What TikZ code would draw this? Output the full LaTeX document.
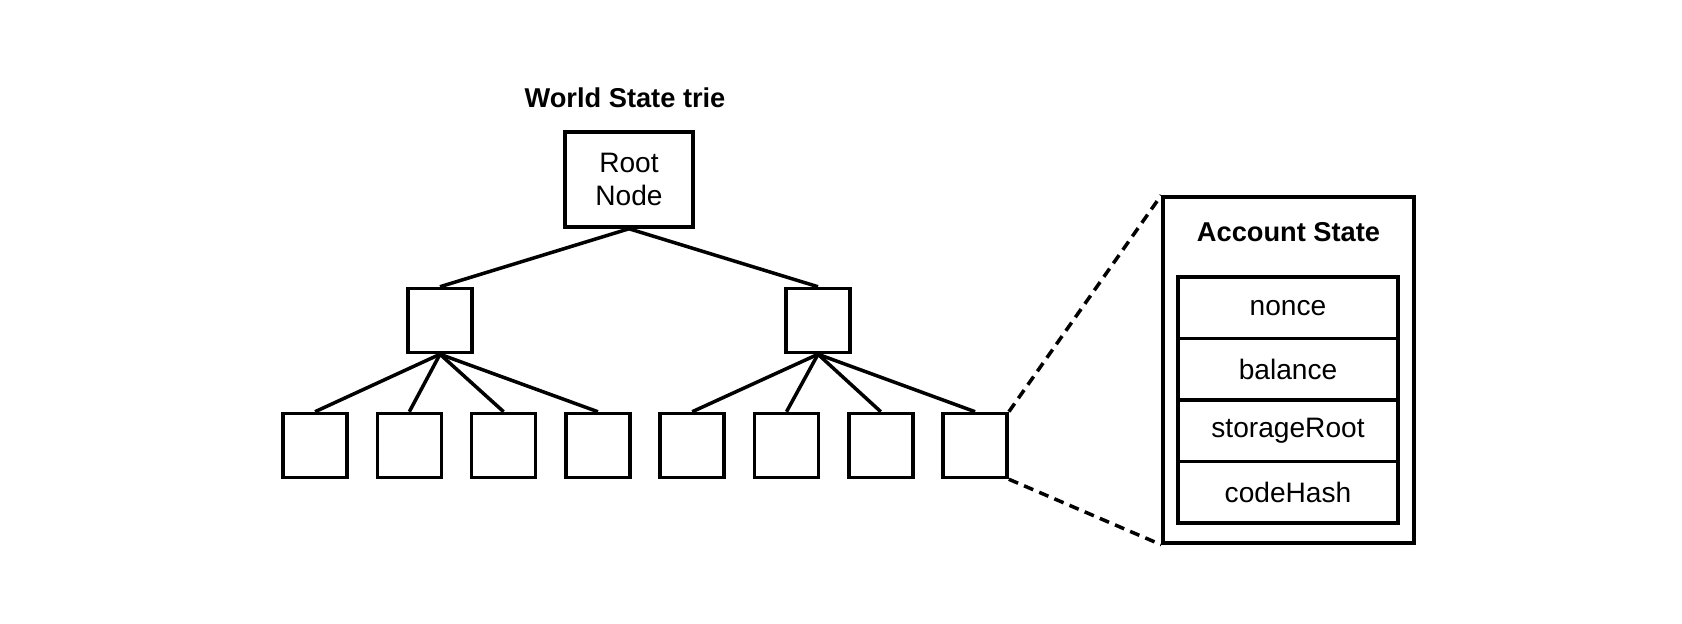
\documentclass[tikz,border=0pt]{standalone}
\usepackage{fontspec}
\setmainfont{Liberation Sans}
\begin{document}
\begin{tikzpicture}[
      box/.style={draw, line width=2pt, inner sep=0pt, font=\fontsize{16}{19.2}\selectfont},
      trienode/.style={box, minimum width=1.28cm, minimum height=1.28cm},
      field/.style={box, minimum width=4.4cm, minimum height=1.23cm},
      heading/.style={font=\fontsize{15.5}{18}\selectfont\bfseries},
      link/.style={line width=2pt},
      zoomline/.style={line width=2pt, dash pattern=on 0.2cm off 0.13cm}
   ]
   \useasboundingbox (0, 0) rectangle (33.64, 12.48);
   % trie
   \node[heading] (title) at (12.5, 10.52) {World State trie};
   \node[box, minimum width=2.56cm, minimum height=1.9cm, align=center] (root) at (12.58, 8.89) {Root\\Node};
   \node[trienode] (mid1) at (8.8, 6.07) {};
   \node[trienode] (mid2) at (16.36, 6.07) {};
   \foreach \i in {1, ..., 8} {
      \node[trienode] (leaf\i) at ({4.414+1.886*\i}, 3.57) {};
   }
   \draw[link] (root.south) -- (mid1.north);
   \draw[link] (root.south) -- (mid2.north);
   \foreach \i in {1, ..., 4} {
      \draw[link] (mid1.south) -- (leaf\i.north);
   }
   \foreach \i in {5, ..., 8} {
      \draw[link] (mid2.south) -- (leaf\i.north);
   }
   % account state
   \node[box, minimum width=5.02cm, minimum height=6.92cm] (acct) at (25.77, 5.08) {};
   \node[heading] (accttitle) at (25.77, 7.84) {Account State};
   \foreach \name [count=\i from 0] in {nonce, balance, storageRoot, codeHash} {
      \node[field] (f\i) at (25.76, {6.325-1.23*\i}) {\name};
   }
   \draw[zoomline] (leaf8.north east) -- (acct.north west);
   \draw[zoomline] (leaf8.south east) -- (acct.south west);
\end{tikzpicture}
\end{document}
